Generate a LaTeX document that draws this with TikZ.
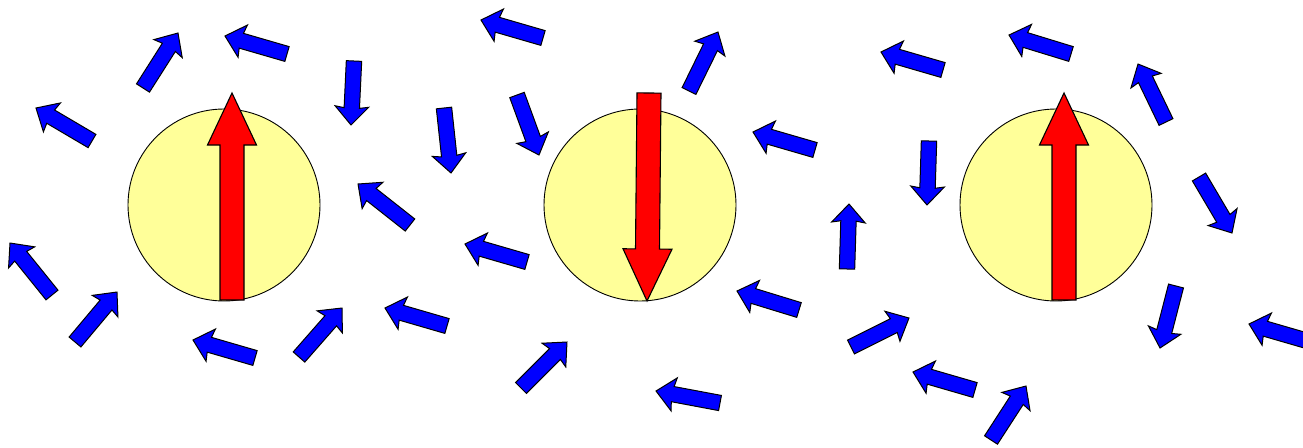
\documentclass[tikz,border=0pt]{standalone}
\definecolor{spinblue}{RGB}{0,0,255}
\definecolor{spinred}{RGB}{255,0,0}
\definecolor{ballyellow}{RGB}{255,255,153}
\tikzset{
  ball/.style={fill=ballyellow,draw=black,line width=0.9pt},
  smallspin/.style={fill=spinblue,draw=black,line width=1pt,line join=miter},
  bigspin/.style={fill=spinred,draw=black,line width=1.1pt,line join=miter}
}
% #1,#2 tail ; #3,#4 tip (pixel coordinates, y downwards)
\newcommand\spinarrow[4]{%
  \pgfmathsetmacro\sang{atan2(-(#4-#2),#3-#1)}%
  \pgfmathsetmacro\slen{veclen(#3-#1,#4-#2)}%
  \begin{scope}[shift={(#1,#2)},rotate=\sang]
    \path[smallspin] (0,-7.7) -- ({\slen-17},-7.7) -- ({\slen-18.5},-16.8) -- (\slen,0)
      -- ({\slen-18.5},16.8) -- ({\slen-17},7.7) -- (0,7.7) -- cycle;
  \end{scope}}
\newcommand\bigarrow[4]{%
  \pgfmathsetmacro\sang{atan2(-(#4-#2),#3-#1)}%
  \pgfmathsetmacro\slen{veclen(#3-#1,#4-#2)}%
  \begin{scope}[shift={(#1,#2)},rotate=\sang]
    \path[bigspin] (0,-12) -- ({\slen-52},-12) -- ({\slen-52},-24.5) -- (\slen,0)
      -- ({\slen-52},24.5) -- ({\slen-52},12) -- (0,12) -- cycle;
  \end{scope}}
\begin{document}
\begin{tikzpicture}[x=1pt,y=-1pt]
  \useasboundingbox (0,0) rectangle (1303,447);
  \clip (0,0) rectangle (1303,447);
  % balls
  \path[ball] (224,205) circle[radius=96];
  \path[ball] (640,205) circle[radius=96];
  \path[ball] (1056,205) circle[radius=96];
  % large spins
  \bigarrow{232}{300}{232}{93}
  \bigarrow{649}{93}{647}{301}
  \bigarrow{1064}{300}{1064}{93}
  % small spins
  \spinarrow{92}{141}{36}{108}
  \spinarrow{143}{88}{178}{33}
  \spinarrow{287}{54}{225}{36}
  \spinarrow{354}{61}{351}{125}
  \spinarrow{52}{295}{10}{243}
  \spinarrow{75}{342}{117}{292}
  \spinarrow{255}{358}{193}{340}
  \spinarrow{299}{357}{342}{308}
  \spinarrow{410}{225}{358}{184}
  \spinarrow{444}{108}{451}{173}
  \spinarrow{543}{38}{481}{20}
  \spinarrow{517}{95}{539}{155}
  \spinarrow{689}{91}{718}{32}
  \spinarrow{815}{150}{753}{132}
  \spinarrow{527}{262}{465}{244}
  \spinarrow{447}{326}{385}{308}
  \spinarrow{521}{388}{567}{342}
  \spinarrow{720}{403}{656}{391}
  \spinarrow{799}{310}{737}{291}
  \spinarrow{847}{269}{849}{204}
  \spinarrow{929}{141}{927}{205}
  \spinarrow{943}{70}{881}{52}
  \spinarrow{1071}{54}{1009}{35}
  \spinarrow{1166}{122}{1138}{64}
  \spinarrow{1199}{177}{1232}{233}
  \spinarrow{1176}{286}{1160}{348}
  \spinarrow{851}{347}{909}{318}
  \spinarrow{975}{390}{913}{372}
  \spinarrow{991}{440}{1026}{386}
  \spinarrow{1311}{342}{1249}{324}
\end{tikzpicture}
\end{document}
